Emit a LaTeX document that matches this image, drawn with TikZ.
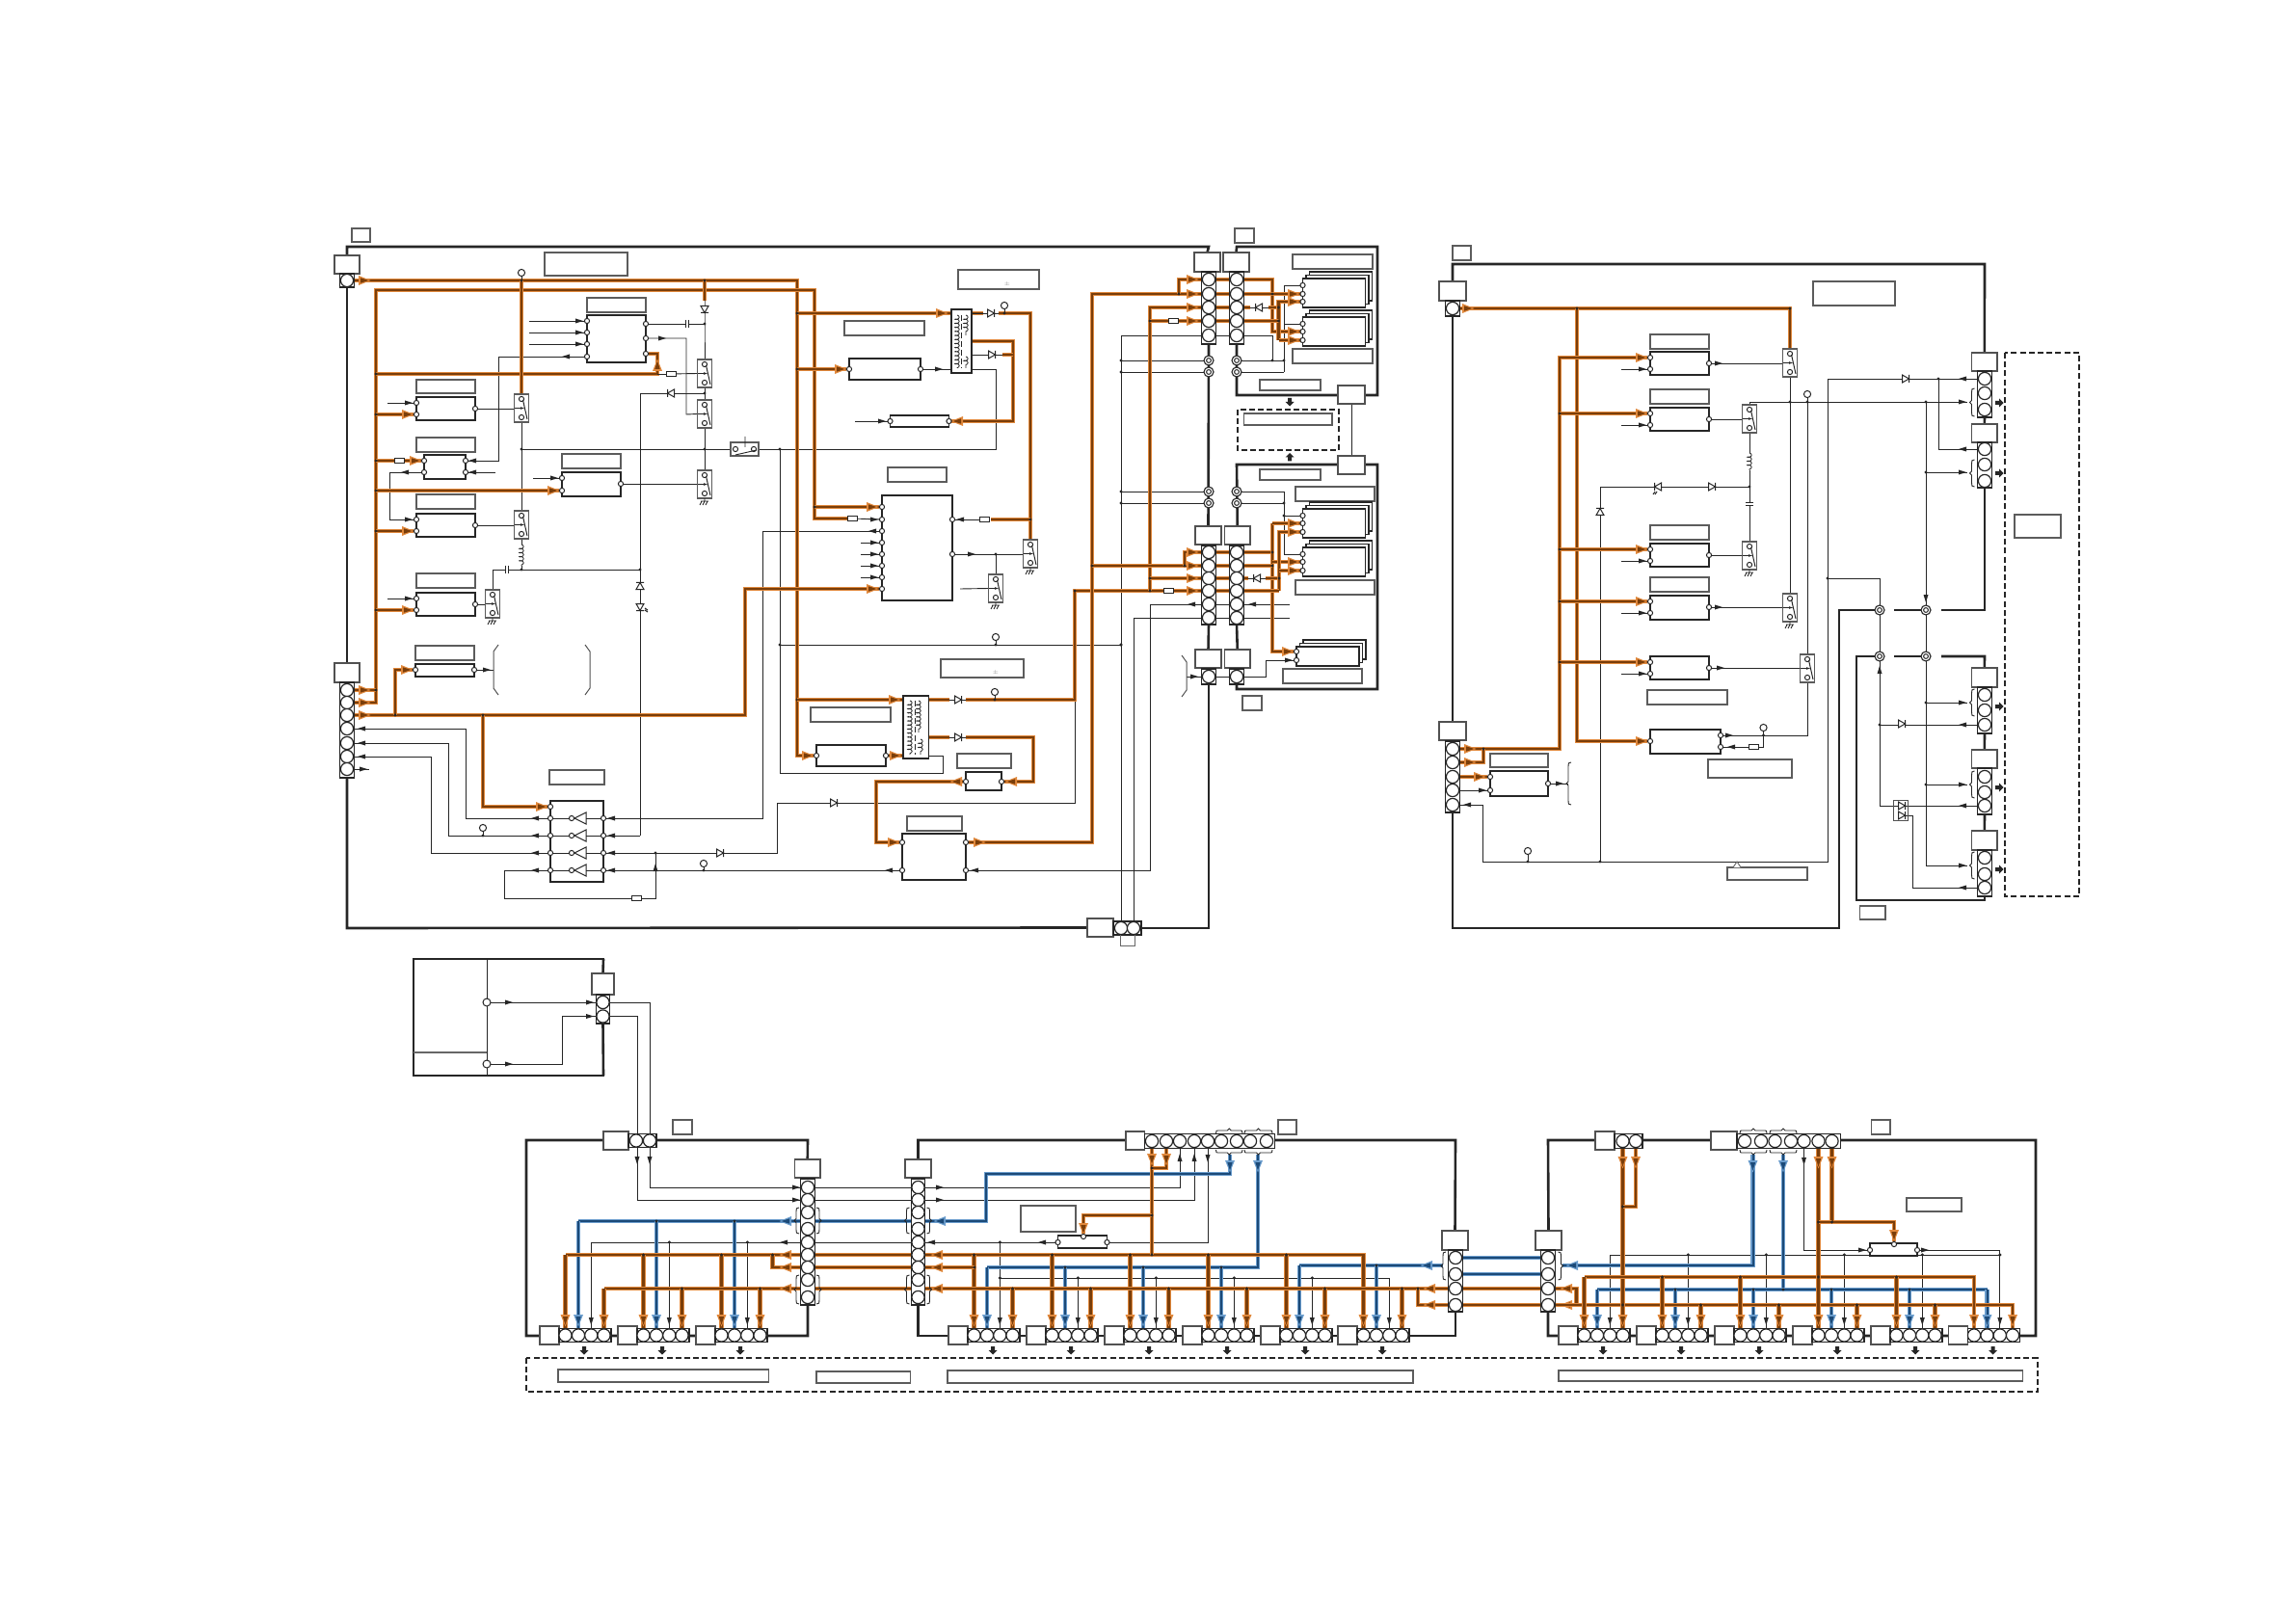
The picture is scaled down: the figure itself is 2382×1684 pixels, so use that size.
\documentclass[tikz,border=0pt]{standalone}
\usetikzlibrary{backgrounds,decorations.pathmorphing}
\definecolor{ink}{HTML}{262626}
\definecolor{hotglow}{HTML}{E0883C}
\definecolor{hotcore}{HTML}{7A3E0A}
\definecolor{coldglow}{HTML}{6A9CCC}
\definecolor{coldcore}{HTML}{1C4A78}
\tikzset{
 wire/.style={draw=ink,line width=.45pt},
 brd/.style={draw=ink,line width=1.3pt},
 hot/.style={preaction={draw=hotglow,line width=2.15pt},draw=hotcore,line width=1.05pt},
 cold/.style={preaction={draw=coldglow,line width=2.15pt},draw=coldcore,line width=1pt},
 dsh/.style={draw=ink,line width=1pt,dash pattern=on 3pt off 1.6pt},
 lab/.style={draw=ink!75,line width=.6pt,fill=white,inner sep=0,outer sep=0},
 blk/.style={draw=ink,line width=.75pt,fill=white,inner sep=0,outer sep=0},
 hdr/.style={draw=ink!80,line width=.6pt,fill=white,inner sep=0,outer sep=0},
 col/.style={draw=ink,line width=.55pt,fill=white,inner sep=0,outer sep=0},
 smallpin/.style={circle,draw=ink,line width=.5pt,fill=white,inner sep=0,outer sep=0,minimum size=2.6pt},
 stackpin/.style={circle,draw=ink,line width=.6pt,fill=white,inner sep=0,outer sep=0,minimum size=6.6pt},
 termo/.style={circle,draw=ink,line width=.55pt,fill=white,inner sep=0,outer sep=0,minimum size=5pt},
 termi/.style={circle,draw=ink,line width=.5pt,fill=white,inner sep=0,outer sep=0,minimum size=2.4pt},
 resis/.style={rectangle,draw=ink,line width=.5pt,fill=white,inner sep=0,outer sep=0,minimum width=5pt,minimum height=2.6pt},
 ar/.pic={\fill[ink] (-4,-2.5)--(4,0)--(-4,2.5)--cycle;},
 har/.pic={\fill[hotglow] (-6,-5)--(6.5,0)--(-6,5)--cycle;\fill[hotcore] (-4,-2.7)--(4.5,0)--(-4,2.7)--cycle;},
 car/.pic={\fill[coldglow] (-6,-5)--(6.5,0)--(-6,5)--cycle;\fill[coldcore] (-4,-2.7)--(4.5,0)--(-4,2.7)--cycle;},
 fatar/.pic={\fill[ink] (-4,-2)--(0,-2)--(0,-4.5)--(4.5,0)--(0,4.5)--(0,2)--(-4,2)--cycle;},
 dio/.pic={\fill[white] (-4,-4.5) rectangle (4,4.5);\draw[ink,line width=.5pt] (-3.5,-4)--(3.5,0)--(-3.5,4)--cycle (3.5,-4)--(3.5,4);},
 led/.pic={\fill[white] (-4,-4.5) rectangle (4,4.5);\draw[ink,line width=.5pt] (-3.5,-4)--(3.5,0)--(-3.5,4)--cycle (3.5,-4)--(3.5,4) (1,-5)--(3,-8) (3,-5)--(5,-8);},
 capa/.pic={\fill[white] (-1.5,-4) rectangle (1.5,4);\draw[ink,line width=.55pt] (-1.5,-4)--(-1.5,4) (1.5,-4)--(1.5,4);},
}
\newcommand\bxx[6]{\pgfmathsetmacro\bxw{(#5-#3)*0.5}\pgfmathsetmacro\bxh{(#6-#4)*0.5}%
 \node[#1,minimum width=\bxw pt,minimum height=\bxh pt] (#2) at ({(#3+#5)/2},{(#4+#6)/2}) {};}
\newcommand\pnn[3]{\node[smallpin] (#1) at (#2,#3) {};}
\newcommand\stackcol[5]{\pgfmathsetmacro\sca{#2-7.3}\pgfmathsetmacro\scb{#2+7.3}%
 \bxx{col}{#1box}{\sca}{#3}{\scb}{#4}%
 \foreach \yy [count=\ii] in {#5} {\node[stackpin] (#1-\ii) at (#2,\yy) {};}}
\newcommand\hstrip[5]{\pgfmathsetmacro\sca{#2-7.3}\pgfmathsetmacro\scb{#2+7.3}%
 \bxx{col}{#1box}{#3}{\sca}{#4}{\scb}%
 \foreach \xx [count=\ii] in {#5} {\node[stackpin] (#1-\ii) at (\xx,#2) {};}}
\newcommand\strp[2]{\pgfmathsetmacro\ha{#2+20}\pgfmathsetmacro\hb{#2+74}%
 \pgfmathsetmacro\ca{#2+26.5}\pgfmathsetmacro\cb{#2+40}\pgfmathsetmacro\cc{#2+53.3}\pgfmathsetmacro\cd{#2+66.5}%
 \bxx{hdr}{#1h}{#2}{1376}{\ha}{1395}%
 \hstrip{#1}{1385.5}{\ha}{\hb}{\ca,\cb,\cc,\cd}%
 \pgfmathsetmacro\fa{#2+46}\pic[rotate=270] at (\fa,1401) {fatar};}
\newcommand\swi[3]{\pgfmathsetmacro\sa{#2-7.3}\pgfmathsetmacro\sb{#2+7.3}\pgfmathsetmacro\sc{#3-5}\pgfmathsetmacro\sd{#3+24}%
 \pgfmathsetmacro\se{#3+19}\pgfmathsetmacro\sf{#3+9.5}%
 \bxx{lab}{#1}{\sa}{\sc}{\sb}{\sd}%
 \node[smallpin] (#1a) at (#2,#3) {};\node[smallpin] (#1b) at (#2,\se) {};%
 \draw[ink,line width=.5pt] ({#2+1.5},{#3+1}) -- ({#2+6},{#3+21});%
 \draw[ink,line width=.45pt] ({#2-7},\sf) -- ({#2},\sf);\fill[ink] ({#2+3},\sf) -- ({#2-1},{\sf-1.3}) -- ({#2-1},{\sf+1.3}) -- cycle;}
\newcommand\gndd[2]{\draw[ink,line width=.45pt] (#1,#2) -- (#1,{#2+3}) ({#1-4},{#2+3}) -- ({#1+4},{#2+3})
 ({#1-3},{#2+3}) -- ({#1-5},{#2+7}) ({#1},{#2+3}) -- ({#1-2},{#2+7}) ({#1+3},{#2+3}) -- ({#1+1},{#2+7});}
\newcommand\tpt[4]{\node[smallpin,minimum size=3.6pt] (#1) at (#2,#4) {};\draw[wire] (#1) -- (#2,#3);\fill[ink] (#2,#3) circle (1.6);}
\newcommand\Ah[4]{\pic[rotate=#2] at (#3,#4) {#1};}
\newcommand\jnc[3]{\coordinate (#1) at (#2,#3);\fill[ink] (#1) circle (1.7);}
\newcommand\coilv[3]{\draw[ink,line width=.4pt,decorate,decoration={coil,aspect=.5,segment length=2.1pt,amplitude=1.1pt}] (#1,#2) -- (#1,#3);}
\newcommand\vbr[4]{\draw[ink,line width=.45pt] ({#1+3*#4},#2) .. controls (#1,#2) and (#1,{#2+1}) .. (#1,{#2+4})
 -- (#1,{(#2+#3)/2-2}) -- ({#1-2*#4},{(#2+#3)/2}) -- (#1,{(#2+#3)/2+2}) -- (#1,{#3-4}) .. controls (#1,{#3-1}) and (#1,#3) .. ({#1+3*#4},#3);}
\newcommand\hbr[4]{\draw[ink,line width=.45pt] (#1,{#3+3*#4}) .. controls (#1,#3) and (#1,#3) .. ({#1+4},#3)
 -- ({(#1+#2)/2-2},#3) -- ({(#1+#2)/2},{#3-2*#4}) -- ({(#1+#2)/2+2},#3) -- ({#2-4},#3) .. controls (#2,#3) and (#2,#3) .. (#2,{#3+3*#4});}
\newcommand\bigbr[4]{\draw[ink!80,line width=.5pt] ({#1+5*#4},#2) -- (#1,{#2+7}) -- (#1,{#3-7}) -- ({#1+5*#4},#3);}
\newcommand\stk[5]{\foreach \oo in {7,3.5,0} {\draw[blk] ({#2+\oo},{#3-\oo}) rectangle ({#4+\oo},{#5-\oo});}\coordinate (#1) at ({(#2+#4)/2},{(#3+#5)/2});}
\newcommand\drp[5]{\draw[#1] (#3 |- 0,#4) -- (#3);\fill[ink] (#3 |- 0,#4) circle (1.7);\pic[rotate=270] at (#3 |- 0,#5) {#2};}
\newcommand\rconn[8]{\bxx{hdr}{#1h}{2045.6}{#2}{2072}{#3}\stackcol{#1}{2059}{#3}{#4}{#5}\vbr{2045.5}{#6}{#7}{1}\pic at (2074,#8) {fatar};}
\begin{document}
\begin{tikzpicture}[x=.5pt,y=-.5pt]
\useasboundingbox (0,0) rectangle (2382,1684);
\begin{scope}[on background layer]\fill[white] (0,0) rectangle (2382,1684);\end{scope}

% ===== nodes, board A =====
\bxx{lab}{a0}{365}{237}{384}{251}
\bxx{hdr}{ja}{347}{265}{373}{284}
\stackcol{pa}{360}{284}{298}{291}
\bxx{hdr}{jb}{347}{688}{373}{708}
\stackcol{pb}{360}{708}{807}{716,729,742,756,771,785,798}
\bxx{lab}{a1}{565}{262}{651}{286}
% u1
\bxx{lab}{u1t}{609}{309}{670}{324}
\bxx{blk}{u1}{609}{327}{670}{376}
\pnn{u1a}{609}{333}\pnn{u1b}{609}{345}\pnn{u1c}{609}{357}\pnn{u1d}{609}{370}
\pnn{u1e}{670}{336}\pnn{u1f}{670}{351}\pnn{u1g}{670}{367}
% b1
\bxx{lab}{b1t}{432}{394}{493}{408}
\bxx{blk}{b1}{432}{412}{493}{436}
\pnn{b1a}{432}{418}\pnn{b1b}{432}{430}\pnn{b1c}{493}{424}
\bxx{lab}{b2t}{432}{454}{493}{469}
\bxx{blk}{b2}{440}{472}{483}{497}
\pnn{b2a}{440}{478}\pnn{b2b}{440}{490}\pnn{b2c}{483}{478}\pnn{b2d}{483}{490}
\bxx{lab}{b3t}{432}{513}{493}{528}
\bxx{blk}{b3}{432}{533}{493}{557}
\pnn{b3a}{432}{539}\pnn{b3b}{432}{551}\pnn{b3c}{493}{545}
\bxx{lab}{b4t}{583}{471}{644}{486}
\bxx{blk}{b4}{583}{490}{644}{515}
\pnn{b4a}{583}{496}\pnn{b4b}{583}{509}\pnn{b4c}{644}{502}
\bxx{lab}{b5t}{432}{595}{493}{610}
\bxx{blk}{b5}{432}{615}{493}{639}
\pnn{b5a}{432}{621}\pnn{b5b}{432}{633}\pnn{b5c}{493}{627}
\bxx{lab}{b6t}{431}{670}{492}{685}
\bxx{blk}{b6}{431}{689}{492}{702}
\pnn{b6a}{431}{695}\pnn{b6b}{492}{695}
\bigbr{512}{669}{721}{1}\bigbr{612}{669}{721}{-1}
% switches
\swi{sa}{541}{414}\swi{sb}{541}{535}\swi{sc}{511}{617}\swi{sd}{731}{378}\swi{se}{731}{420}\swi{sf}{731}{493}
\gndd{511}{641}\gndd{731}{517}
\bxx{lab}{sg}{758}{459}{787}{473}
\pnn{sg1}{763}{466}\pnn{sg2}{782}{466}
\draw[ink,line width=.45pt] (773,453) -- (773,464) (763,472) -- (785,467);
\tpt{tp1}{541}{291}{283}
% resistors
\node[resis] (r1) at (414,478) {};
\node[resis] (r2) at (696,388) {};
\node[resis] (r3) at (884,538) {};
\node[resis] (r4) at (1021,539) {};
\node[resis] (r5) at (660,932) {};
\node[resis] (r6) at (1217,333) {};
\node[resis] (r7) at (1212.5,613) {};
\node[resis] (r8) at (1819,775) {};
% u4 etc
\bxx{lab}{u4t}{876}{333}{959}{348}
\bxx{blk}{u4}{881}{372}{955}{394}
\pnn{u4a}{881}{383}\pnn{u4b}{955}{383}
\bxx{blk}{t1}{987}{321}{1008}{387}
\coilv{993}{327}{382}\coilv{1002}{327}{348}\coilv{1002}{370}{382}
\draw[ink,line width=.45pt,dash pattern=on 3pt off 1.5pt] (997.5,327) -- (997.5,382);
\bxx{lab}{a5}{994}{280}{1078}{300}
\node[font=\fontsize{3}{3}\selectfont,text=ink!50,inner sep=0] (pm1) at (1045,294) {\textpm};
\bxx{blk}{u6}{923.5}{431}{984.5}{443}
\pnn{u6a}{923.5}{437}\pnn{u6b}{984.5}{437}
\bxx{lab}{u5t}{921}{485}{982}{500}
\bxx{blk}{u5}{915}{514}{988}{623}
\foreach \yy [count=\ii] in {526,539,551,563,575,587,599,611} {\pnn{u5l\ii}{915}{\yy}}
\pnn{u5r1}{988}{539}\pnn{u5r2}{988}{575}
\swi{sh}{1069}{565}\swi{si}{1033}{601}
\gndd{1069}{589}\gndd{1033}{625}
\tpt{tp2}{1042}{325}{317}
\tpt{tp3}{1033}{669}{661}
\bxx{lab}{a6}{976}{684}{1062}{703}
\node[font=\fontsize{3}{3}\selectfont,text=ink!50,inner sep=0] (pm2) at (1033,697.5) {\textpm};
\tpt{tp4}{1032}{726}{718}
\tpt{tp5}{501}{867}{859}
\tpt{tp6}{730}{903}{896}
% t2
\bxx{blk}{t2}{937}{722}{963.5}{787}
\coilv{944}{727}{783}\coilv{953}{727}{760}\coilv{955}{767}{783}
\draw[ink,line width=.45pt,dash pattern=on 3pt off 1.5pt] (949.5,727) -- (949.5,783);
\bxx{lab}{u9t}{841}{734}{924}{749}
\bxx{blk}{u9}{847}{773}{919}{795}
\pnn{u9a}{847}{784}\pnn{u9b}{919}{784}
\bxx{lab}{u10t}{993}{782}{1049}{797}
\bxx{blk}{u10}{1002}{801}{1039}{820}
\pnn{u10a}{1002}{811}\pnn{u10b}{1039}{811}
\bxx{lab}{u8t}{941}{847}{998}{862}
\bxx{blk}{u8}{936}{865}{1002}{913}
\pnn{u8a}{936}{874}\pnn{u8b}{936}{903}\pnn{u8c}{1002}{874}\pnn{u8d}{1002}{903}
% u7 buffers
\bxx{lab}{u7t}{570}{799}{627}{814}
\bxx{blk}{u7}{571}{831}{626}{915}
\pnn{u7a}{571}{837}
\foreach \yy [count=\ii] in {849,867,885,903} {
 \pnn{u7l\ii}{571}{\yy}\pnn{u7r\ii}{626}{\yy}
 \node[smallpin] (u7b\ii) at (593,\yy) {};
 \draw[wire] (u7l\ii) -- (u7b\ii);
 \draw[ink,line width=.5pt,fill=white] (608,\yy-6) -- (596,\yy) -- (608,\yy+6) -- cycle;
 \draw[wire] (608,\yy) -- (u7r\ii);}
% bottom connector
\bxx{hdr}{jk}{1128}{953}{1155}{972}
\bxx{col}{jkb}{1155}{956}{1184}{970}
\node[stackpin] (pk-1) at (1163,963) {};\node[stackpin] (pk-2) at (1176,963) {};
\draw[ink!70,line width=.5pt] (1162,970) -- (1162,981) -- (1177,981) -- (1177,970);
% ===== connectors between A and B =====
\bxx{lab}{b0}{1281}{237}{1301}{252}
\bxx{hdr}{jc}{1239}{262}{1266}{282}\stackcol{pc}{1254}{282}{357}{290,305,319,333,348}
\bxx{hdr}{jd}{1269}{262}{1296}{282}\stackcol{pd}{1283}{282}{357}{290,305,319,333,348}
\bxx{hdr}{je}{1240}{546}{1267}{565}\stackcol{pe}{1254}{566}{648}{573,587,600,613,627,641}
\bxx{hdr}{jf}{1270.5}{546}{1297}{565}\stackcol{pf}{1283}{566}{648}{573,587,600,613,627,641}
\bxx{hdr}{jg}{1240}{674}{1267}{693}\stackcol{pg}{1254}{694}{710}{702}
\bxx{hdr}{jh}{1270.5}{674}{1297}{693}\stackcol{ph}{1283}{694}{710}{702}
\bigbr{1231}{680}{723}{-1}
\foreach \nm/\xx/\yy in {ta/1254/374,tb/1254/386,tc/1283/374,td/1283/386,te/1254/510,tf/1254/522,tg/1283/510,th/1283/522} {
 \node[termo] (\nm) at (\xx,\yy) {};\node[termi] (\nm i) at (\xx,\yy) {};}
\bxx{lab}{c1}{1341}{264}{1424}{279}
\stk{m1}{1351.5}{289}{1416.5}{319}\stk{m2}{1351.5}{329}{1416.5}{359}
\bxx{lab}{c2}{1341}{362}{1424}{377}
\bxx{lab}{c3}{1307}{394}{1370}{405}
\bxx{hdr}{jx}{1388}{400}{1416}{419}
\bxx{hdr}{jy}{1388}{473}{1416}{492}
\bxx{lab}{c4}{1290.5}{429}{1382}{441}
\bxx{lab}{c5}{1307}{487}{1370}{498}
\bxx{lab}{c6}{1344}{505}{1426}{520}
\stk{m3}{1351.5}{528}{1416.5}{558}\stk{m4}{1351.5}{568}{1416.5}{598}
\bxx{lab}{c7}{1344}{602}{1426}{617}
\stk{m5}{1345}{671}{1410}{691}
\bxx{lab}{c8}{1331}{694}{1413}{709}
\bxx{lab}{c9}{1289}{722}{1309}{737}
\foreach \yy [count=\ii] in {296,305,313,336,344,353,535,543,552,575,583,592} {\pnn{mp\ii}{1351.5}{\yy}}
\pnn{mp13}{1345}{676}\pnn{mp14}{1345}{685}
\pic[rotate=270] at (1338,417) {fatar};
\pic[rotate=90] at (1338,474.5) {fatar};
\draw[dsh] (1284,425) rectangle (1389,467);
% ===== board C =====
\bxx{lab}{d0}{1507}{255}{1526}{270}
\bxx{hdr}{jm}{1493}{292}{1521}{312}\stackcol{pm}{1507}{312}{328}{320}
\bxx{lab}{d1}{1881}{292}{1966}{317}
\foreach \nm/\ya/\yb/\yc [count=\kk] in {c1k/347/365/389,c2k/404/423/447,c3k/545/564/588,c4k/599/618/643} {
 \pgfmathsetmacro\yl{\ya+15}
 \bxx{lab}{\nm t}{1712}{\ya}{1773}{\yl}
 \bxx{blk}{\nm}{1712}{\yb}{1773}{\yc}
 \pgfmathsetmacro\pa{\yb+6}\pgfmathsetmacro\pb{\yb+18}\pgfmathsetmacro\pc{\yb+12}
 \pnn{\nm a}{1712}{\pa}\pnn{\nm b}{1712}{\pb}\pnn{\nm c}{1773}{\pc}}
\bxx{blk}{c5k}{1712}{681}{1773}{705}
\pnn{c5ka}{1712}{687}\pnn{c5kb}{1712}{699}\pnn{c5kc}{1773}{693}
\bxx{lab}{c5kt}{1709}{716}{1792}{731}
\bxx{blk}{c6k}{1712}{757}{1785}{782}
\pnn{c6ka}{1712}{769}\pnn{c6kb}{1785}{763}\pnn{c6kc}{1785}{775}
\bxx{lab}{c6kt}{1772}{788}{1859}{807}
\swi{ta1}{1857}{367}\swi{ta2}{1815}{425}\swi{ta3}{1815}{567}\swi{ta4}{1857}{621}\swi{ta5}{1875}{684}
\gndd{1815}{591}\gndd{1857}{645}
\tpt{tp7}{1875}{417}{409}
\tpt{tp8}{1829.5}{763}{755}
\tpt{tp9}{1585}{894}{883}
\bxx{hdr}{jn}{1493}{749}{1521}{768}\stackcol{pn}{1507}{769}{843}{777,791,806,820,835}
\bxx{lab}{c7kt}{1546}{782}{1606}{796}
\bxx{blk}{c7k}{1546}{800}{1606}{826}
\pnn{c7a}{1546}{806}\pnn{c7b}{1546}{820}\pnn{c7c}{1606}{813}
\vbr{1627}{791}{835}{1}
\bxx{lab}{d2}{1792}{900}{1875}{913}
\draw[ink!70,line width=.5pt,fill=white] (1798,900) -- (1802,894) -- (1806,900);
% right connectors
\rconn{pj}{366}{385}{433}{393,408,425}{403}{432}{418}
\rconn{pk2}{440}{459}{506}{466,482,499}{477}{505}{491}
\rconn{pp}{693}{713}{761}{721,737,752}{715}{743}{733}
\rconn{pq}{778}{797}{845}{806,822,836}{800}{828}{817}
\rconn{pr}{862}{882}{930}{890,907,921}{884}{912}{902}
\foreach \nm/\xx/\yy in {tg1/1950/633,tg2/1950/681,th1/1998/633,th2/1998/681} {
 \node[termo] (\nm) at (\xx,\yy) {};\node[termi] (\nm i) at (\xx,\yy) {};}
\bxx{lab}{d3}{2090}{534}{2138}{558}
\bxx{lab}{d4}{1929.5}{940}{1956}{954}
\draw[dsh] (2080,366) rectangle (2157,930);
\draw[ink!80,line width=.5pt] (1964,830) rectangle (1979,851);
% ===== panel D =====
\bxx{hdr}{jd1}{614}{1010}{637}{1032}
\stackcol{dp}{625.5}{1032}{1062}{1040,1054.5}
\node[smallpin,minimum size=4pt] (dc1) at (505,1040) {};
\node[smallpin,minimum size=4pt] (dc2) at (505,1104) {};
% ===== board E, F, G =====
\bxx{lab}{e0}{698}{1162}{718}{1177}
\bxx{hdr}{je1}{626}{1174}{652}{1193}
\hstrip{ep}{1183.5}{652}{681}{660,674}
\bxx{hdr}{jel}{824.5}{1203}{851}{1222}
\stackcol{el}{838}{1223}{1354}{1232,1245,1258,1275,1289,1302,1315,1328,1346}
\bxx{hdr}{jer}{939}{1203}{966}{1222}
\stackcol{er}{952.5}{1223}{1354}{1232,1245,1258,1275,1289,1302,1315,1328,1346}
\foreach \xx/\ss in {826/1,850/-1,940.5/1,964.5/-1} {\vbr{\xx}{1253}{1280}{\ss}\vbr{\xx}{1323}{1353}{\ss}}
\strp{se1}{560}\strp{se2}{641}\strp{se3}{722}
\strp{sf1}{984}\strp{sf2}{1065}\strp{sf3}{1146}\strp{sf4}{1227}\strp{sf5}{1308}\strp{sf6}{1388}
\strp{sg1}{1617}\strp{sg2}{1698}\strp{sg3}{1779}\strp{sg4}{1860}\strp{sg5}{1941}\strp{sg6}{2021.5}
\bxx{hdr}{jfs}{1168}{1174}{1187.5}{1193}
\hstrip{fs}{1184}{1187.5}{1322.5}{1195,1210,1224,1239,1253,1267,1283,1297,1314}
\hbr{1261.5}{1289}{1173}{1}\hbr{1291}{1320}{1173}{1}\hbr{1261.5}{1289}{1196}{-1}\hbr{1291}{1320}{1196}{-1}
\bxx{lab}{f0}{1326}{1162}{1345}{1177}
\bxx{lab}{f1}{1059}{1251}{1116}{1278}
\bxx{blk}{b10}{1097.5}{1282}{1148.5}{1295}
\pnn{b10a}{1097.5}{1289}\pnn{b10b}{1124}{1283}\pnn{b10c}{1148.5}{1289}
\bxx{hdr}{jpu}{1496}{1277}{1523}{1297}
\stackcol{pu}{1510}{1297}{1361}{1305,1322,1337,1354}
\vbr{1497}{1299}{1328}{1}
\bxx{hdr}{jpv}{1593}{1277}{1620}{1297}
\stackcol{pv}{1606}{1297}{1361}{1305,1322,1337,1354}
\vbr{1619.5}{1299}{1328}{-1}
\bxx{hdr}{jgt}{1655}{1174}{1675}{1193}
\hstrip{gt}{1184}{1675}{1704}{1683.5,1697}
\bxx{hdr}{jgs}{1775}{1174}{1802}{1193}
\hstrip{gs}{1184}{1802}{1909.5}{1810,1827,1841.5,1858,1871.5,1886.5,1900.5}
\hbr{1805}{1833}{1173}{1}\hbr{1836}{1864}{1173}{1}\hbr{1805}{1833}{1196}{-1}\hbr{1836}{1864}{1196}{-1}
\bxx{lab}{g0}{1941.5}{1162}{1961}{1177}
\bxx{lab}{g1}{1978}{1243}{2035}{1257}
\bxx{blk}{b11}{1940}{1290}{1989}{1303}
\pnn{b11a}{1940}{1297}\pnn{b11b}{1965}{1291}\pnn{b11c}{1989}{1297}
% dashed bottom
\draw[dsh] (546,1409) rectangle (2114,1444);
\bxx{lab}{h1}{579}{1421}{797.5}{1434}
\bxx{lab}{h2}{847}{1423}{944.5}{1435}
\bxx{lab}{h3}{983}{1422}{1466}{1435}
\bxx{lab}{h4}{1617}{1422}{2098.5}{1433}

% ===== connectors =====
\begin{scope}[on background layer]
% board outlines
\draw[brd] (ja.north) -- (360,256) -- (1254,256) -- (jc.north);
\draw[brd] (pabox.south) -- (jb.north);
\draw[brd] (pbbox.south) -- (360,963) -- (jk.west);
\draw[brd] (jkb.east) -- (1254,963) -- (pgbox.south);
\draw[brd] (pcbox.south) -- (je.north);
\draw[brd] (pebox.south) -- (jg.north);
\draw[brd] (jd.north) -- (1283,256) -- (1429,256) -- (1429,410) -- (1283,410) -- (pdbox.south);
\draw[brd] (jf.north) -- (1283,482) -- (1429,482) -- (1429,715) -- (1283,715) -- (phbox.south);
\draw[brd] (pfbox.south) -- (jh.north);
\draw[wire] (jx) -- (jy);
% board C
\draw[brd] (jm.north) -- (1507,274) -- (2059,274) -- (pjh.north);
\draw[brd] (pmbox.south) -- (jn.north);
\draw[brd] (pnbox.south) -- (1507,963) -- (1908,963) -- (1908,633) -- (tg1);
\coordinate (s1a) at (1965,633);\coordinate (s1b) at (2014,633);
\coordinate (s2a) at (1965,681);\coordinate (s2b) at (2014,681);
\draw[brd] (s1a) -- (th1);\draw[brd] (s2a) -- (th2);
\draw[brd] (s1b) -- (2059,633) -- (pk2box.south);
\draw[brd] (pjbox.south) -- (pk2h.north);
\draw[brd] (tg2) -- (1926,681) -- (1926,934) -- (2059,934) -- (prbox.south);
\draw[brd] (s2b) -- (2059,681) -- (pph.north);
\draw[brd] (ppbox.south) -- (pqh.north);
\draw[brd] (pqbox.south) -- (prh.north);
% panel D
\draw[brd] (429,995) rectangle (626,1116);
\draw[draw=white,line width=2pt] (626,1062) -- (626,1010);
\draw[brd] (626,995) -- (jd1.north);\draw[brd] (dpbox.south) -- (626,1116);
\draw[wire] (505,995) -- (dc1) (dc1) -- (dc2) (dc2) -- (505,1116);
\draw[draw=ink!70,line width=.6pt] (429,1092) -- (505,1092);
% E F G outlines
\draw[brd] (jel.north) -- (838,1183) -- (546,1183) -- (546,1386) -- (838,1386) -- (elbox.south);
\draw[brd] (jer.north) -- (952.5,1183) -- (1510,1183) -- (jpu.north);
\draw[brd] (erbox.south) -- (952.5,1386) -- (1510,1386) -- (pubox.south);
\draw[brd] (jpv.north) -- (1606,1183) -- (2112,1183) -- (2112,1386) -- (1606,1386) -- (pvbox.south);

% ---- thin wires board A ----
\foreach \pp/\yy in {u1a/333,u1b/345,u1c/357} {\coordinate (\pp f) at (549,\yy);\draw[wire] (\pp f) -- (\pp);\Ah{ar}{0}{601}{\yy}}
\draw[wire] (u1d) -- (517,370) -- (517,478) -- (b2c);
\Ah{ar}{180}{587}{370}\Ah{ar}{180}{490}{478}
\draw[wire] (u1e) -- (731,336);
\draw[wire] (u1f) -- (712,351) -- (712,430) -- (se.west);\Ah{ar}{0}{687}{351}
\draw[wire] (r2) -- (sd.west);
\coordinate (b2f) at (514,490);\draw[wire] (b2f) -- (b2d);\Ah{ar}{180}{490}{490}
\draw[wire] (b2b) -- (404,490) -- (404,539) -- (b3a);\Ah{ar}{180}{420}{490}\Ah{ar}{0}{424}{539}
\coordinate (b1f) at (402,418);\draw[wire] (b1f) -- (b1a);\Ah{ar}{0}{424}{418}
\coordinate (b5f) at (402,621);\draw[wire] (b5f) -- (b5a);\Ah{ar}{0}{424}{621}
\coordinate (b4f) at (553,496);\draw[wire] (b4f) -- (b4a);\Ah{ar}{0}{575}{496}
\draw[wire] (b1c) -- (b1c -| sa.west);
\draw[wire] (b3c) -- (b3c -| sb.west);
\draw[wire] (b5c) -- (b5c -| sc.west);
\draw[wire] (b4c) -- (b4c -| sf.west);
\draw[wire] (b6b) -- (512,695);\Ah{ar}{0}{505}{695}
\draw[wire] (sab) -- (sba);
\draw[wire] (sbb) -- (541,565);\draw[wire] (541,587) -- (541,591);
\draw[wire] (541,591) -- (511,591) -- (sca);
\draw[wire] (541,466) -- (sg1);\draw[wire] (sg2) -- (1033,466) -- (1033,383) -- (t1.east |- 0,383);
\jnc{ja1}{541}{466}\jnc{ja2}{731}{466}\jnc{ja3}{809}{466}
\draw[wire] (731,312) -- (731,336) -- (sda);
\draw[wire] (sdb) -- (sea);
\draw[wire] (seb) -- (sfa);
\jnc{ja4}{731}{408}\jnc{ja5}{731}{336}
\draw[wire] (731,408) -- (664,408) -- (664,867);
\draw[wire] (664,591) -- (541,591);\jnc{ja6}{541}{591}\jnc{ja7}{664}{591}
\draw[wire] (809,466) -- (809,802) -- (978,802) -- (978,784) -- (963.5,784);
\draw[wire] (809,669) -- (1163,669);\jnc{ja8}{809}{669}\jnc{ja9}{1163}{669}
\draw[wire] (791,551) -- (791,849) -- (u7r1);\draw[wire] (u5l3) -- (791,551);
\Ah{ar}{180}{905}{551}\Ah{ar}{180}{634}{849}
% lines u7
\draw[wire] (pb-4) -- (483,756) -- (483,849) -- (u7l1);\Ah{ar}{180}{375}{756}\Ah{ar}{180}{555}{849}
\draw[wire] (pb-5) -- (465,771) -- (465,867) -- (u7l2);\Ah{ar}{180}{375}{771}\Ah{ar}{180}{555}{867}
\draw[wire] (pb-6) -- (447,785) -- (447,885) -- (u7l3);\Ah{ar}{180}{375}{785}\Ah{ar}{180}{555}{885}
\coordinate (pbf) at (383,798);\draw[wire] (pb-7) -- (pbf);\Ah{ar}{0}{377}{798}
\draw[wire] (u7r2) -- (664,867);\Ah{ar}{180}{634}{867}
\draw[wire] (u7r3) -- (806.5,885) -- (806.5,833) -- (1115,833) -- (1115,726);\Ah{ar}{180}{634}{885}
\jnc{ja10}{1115}{726}
\draw[wire] (u7l4) -- (523,903) -- (523,932) -- (r5) -- (680,932) -- (680,885);\Ah{ar}{180}{555}{903}\Ah{ar}{90}{680}{900}
\jnc{ja11}{680}{885}
\draw[wire] (u7r4) -- (u8b);\Ah{ar}{180}{634}{903}\Ah{ar}{180}{922}{903}
\draw[wire] (u8d) -- (1193,903) -- (1193,627) -- (pe-5);\Ah{ar}{180}{1011}{903}\Ah{ar}{180}{1236}{627}
\draw[wire] (pe-5) -- (pf-5);\coordinate (pf5f) at (1338,627);\draw[wire] (pf-5) -- (pf5f);\Ah{ar}{180}{1299}{627}
\draw[wire] (pe-6) -- (pf-6);\coordinate (pf6f) at (1338,641);\draw[wire] (pf-6) -- (pf6f);
\draw[wire] (pe-6) -- (1176,641) -- (pk-2);
\draw[wire] (pc-5) -- (1163,348) -- (pk-1);
\draw[wire] (pc-5) -- (pd-5) -- (1320,348) -- (1320,374);
\draw[wire] (1163,374) -- (ta);\draw[wire] (1163,386) -- (tb);\draw[wire] (1163,510) -- (te);\draw[wire] (1163,522) -- (tf);
\foreach \yy in {374,386,510,522,669} {\fill[ink] (1163,\yy) circle (1.7);}
\draw[wire] (tc) -- (1332,374);\draw[wire] (td) -- (1332,386);
\draw[wire] (mp1) -- (1332,296) -- (1332,386);\draw[wire] (mp4) -- (1332,336);
\fill[ink] (1320,374) circle (1.7);\fill[ink] (1332,374) circle (1.7);
\draw[wire] (tg) -- (1332,510) -- (1332,575) -- (mp10);\draw[wire] (th) -- (1332,522);\draw[wire] (mp7) -- (1332,535);
\fill[ink] (1332,522) circle (1.7);\fill[ink] (1332,535) circle (1.7);
\draw[wire] (pg-1) -- (ph-1) -- (1313,702) -- (1313,685) -- (mp14);\Ah{ar}{0}{1337}{685}
\coordinate (pgf) at (1231,702);\draw[wire] (pgf) -- (pg-1);\Ah{ar}{0}{1239}{702}
\draw[wire] (u4b) -- (t1.west |- 0,383);\Ah{ar}{0}{974}{383}
\coordinate (u6f) at (887,437);\draw[wire] (u6f) -- (u6a);\Ah{ar}{0}{915}{437}
\foreach \kk/\yy in {4/563,5/575,6/587,7/599} {\coordinate (u5f\kk) at (893,\yy);\draw[wire] (u5f\kk) -- (u5l\kk);\Ah{ar}{0}{907}{\yy}}
\draw[wire] (r3) -- (u5l2);\Ah{ar}{0}{907}{539}
\draw[wire] (u5r2) -- (sh.west |- 0,575);\draw[wire] (1033,575) -- (sia);\Ah{ar}{0}{1008}{575}\jnc{ja12}{1033}{575}
\draw[wire] (u5r1) -- (r4);\Ah{ar}{180}{996}{539}
\coordinate (sif) at (996,611);\draw[wire] (sif) -- (si.west);
% ---- thin wires board C ----
\foreach \nm in {c1k,c2k,c3k,c4k} {\path (\nm b) ++(-30,0) coordinate (\nm f);\draw[wire] (\nm f) -- (\nm b);\path (\nm b) ++(-8,0) pic {ar};}
\coordinate (c5kf) at (1682,699);\draw[wire] (c5kf) -- (c5kb);\Ah{ar}{0}{1704}{699}
\draw[wire] (c1kc) -- (c1kc -| ta1.west);\Ah{ar}{0}{1783}{377}
\draw[wire] (c2kc) -- (c2kc -| ta2.west);
\draw[wire] (c3kc) -- (c3kc -| ta3.west);
\draw[wire] (c4kc) -- (c4kc -| ta4.west);\Ah{ar}{0}{1783}{630}
\draw[wire] (c5kc) -- (c5kc -| ta5.west);\Ah{ar}{0}{1785}{693}
\draw[wire] (ta1b) -- (ta4a);
\draw[wire] (ta2a) -- (1815,417) -- (2041,417);\Ah{ar}{0}{2036}{417}
\foreach \xx in {1857,1998} {\fill[ink] (\xx,417) circle (1.7);}
\draw[wire] (1875,417) -- (ta5a);
\draw[wire] (ta5b) -- (1875,763) -- (c6kb);\Ah{ar}{0}{1794}{763}
\draw[wire] (1829.5,763) -- (1829.5,775) -- (r8) -- (c6kc);\Ah{ar}{180}{1796}{775}
\draw[wire] (ta2b) -- (1815,470);\draw[wire] (1815,488) -- (1815,505) -- (ta3a);
\jnc{jc1}{1815}{505}
\draw[wire] (1815,505) -- (1660,505) -- (1660,894);
\draw[wire] (pn-5) -- (1538,835) -- (1538,894) -- (1896,894) -- (1896,393) -- (pj-1);\Ah{ar}{180}{1522}{835}\Ah{ar}{180}{2036}{393}
\jnc{jc2}{1660}{894}
\jnc{jc3}{2011}{393}
\draw[wire] (2011,393) -- (2011,466) -- (pk2-1);\Ah{ar}{180}{2036}{466}
\jnc{jc4}{1896}{600}
\draw[wire] (1896,600) -- (1950,600) -- (tg1);
\draw[wire] (tg1) -- (tg2);
\draw[wire] (tg2) -- (1950,836) -- (pq-3);\Ah{ar}{90}{1950}{695}\Ah{ar}{180}{2036}{836}
\draw[wire] (1950,752) -- (pp-3);\Ah{ar}{180}{2036}{752}\jnc{jc5}{1950}{752}
\draw[wire] (1973,846) -- (1984.5,846) -- (1984.5,921) -- (pr-3);\Ah{ar}{180}{2036}{921}
\draw[wire] (1998,417) -- (th1);\draw[wire] (th1) -- (th2);\draw[wire] (th2) -- (1998,898) -- (2041,898);\Ah{ar}{270}{1998}{621}\Ah{ar}{0}{2036}{898}
\draw[wire] (1998,490) -- (2041,490);\Ah{ar}{0}{2036}{490}\jnc{jc6}{1998}{490}
\draw[wire] (1998,729) -- (2041,729);\Ah{ar}{0}{2036}{729}\jnc{jc7}{1998}{729}
\draw[wire] (1998,814) -- (2041,814);\Ah{ar}{0}{2036}{814}\jnc{jc8}{1998}{814}
\draw[wire] (c7c) -- (1627,813);\Ah{ar}{0}{1618}{813}
\draw[wire] (pn-4) -- (c7b);\Ah{ar}{0}{1538}{820}
% ---- panel D wires ----
\draw[wire] (dc1) -- (dp-1);\Ah{ar}{0}{528}{1040}\Ah{ar}{0}{612}{1040}
\draw[wire] (dc2) -- (583,1104) -- (583,1054.5) -- (dp-2);\Ah{ar}{0}{528}{1104}\Ah{ar}{0}{612}{1054.5}
\draw[wire] (dp-1) -- (674,1040) -- (674,1232) -- (el-1);\Ah{ar}{270}{674}{1204}\Ah{ar}{0}{826}{1232}
\draw[wire] (dp-2) -- (661,1054.5) -- (661,1245) -- (el-2);\Ah{ar}{270}{661}{1204}\Ah{ar}{0}{826}{1245}
\draw[wire] (el-1) -- (er-1);\draw[wire] (el-2) -- (er-2);
\draw[wire] (er-1) -- (1224,1232) -- (fs-3);\Ah{ar}{0}{975}{1232}\Ah{ar}{90}{1224}{1201}
\draw[wire] (er-2) -- (1239,1245) -- (fs-4);\Ah{ar}{0}{975}{1245}\Ah{ar}{90}{1239}{1201}
% y=1289 row
\draw[wire] (se1-3 |- 0,1289) -- (el-5);\Ah{ar}{180}{813}{1289}
\draw[wire] (el-5) -- (er-5);\draw[wire] (er-5) -- (b10a);\Ah{ar}{180}{966}{1289}\Ah{ar}{180}{1081}{1289}
\draw[wire] (b10c) -- (1253,1289) -- (fs-5);\Ah{ar}{270}{1253}{1202}
\draw[wire] (se1-3 |- 0,1289) -- (se1-3);\pic[rotate=270] at (se1-3 |- 0,1371) {ar};
\drp{wire}{ar}{se2-3}{1289}{1371}\drp{wire}{ar}{se3-3}{1289}{1371}
\drp{wire}{ar}{sf1-3}{1289}{1371}
\draw[wire] (sf1-3 |- 0,1326) -- (sf6-3 |- 0,1326);\fill[ink] (sf1-3 |- 0,1326) circle (1.7);
\drp{wire}{ar}{sf2-3}{1326}{1371}\drp{wire}{ar}{sf3-3}{1326}{1371}\drp{wire}{ar}{sf4-3}{1326}{1371}\drp{wire}{ar}{sf5-3}{1326}{1371}
\draw[wire] (sf6-3 |- 0,1326) -- (sf6-3);\pic[rotate=270] at (sf6-3 |- 0,1371) {ar};
% G thin
\draw[wire] (gs-5) -- (1871.5,1297) -- (b11a);\Ah{ar}{270}{1871.5}{1205}\Ah{ar}{0}{1932}{1297}
\draw[wire] (b11c) -- (2074.5,1297) -- (2074.5,1302);\Ah{ar}{0}{1997}{1297}
\draw[wire] (sg1-3 |- 0,1302) -- (sg6-3 |- 0,1302);
\draw[wire] (sg1-3 |- 0,1302) -- (sg1-3);\pic[rotate=270] at (sg1-3 |- 0,1371) {ar};
\drp{wire}{ar}{sg2-3}{1302}{1371}\drp{wire}{ar}{sg3-3}{1302}{1371}\drp{wire}{ar}{sg4-3}{1302}{1371}\drp{wire}{ar}{sg5-3}{1302}{1371}\drp{wire}{ar}{sg6-3}{1302}{1371}

% ---- blue ----
\draw[cold] (se1-2 |- 0,1267) -- (1023,1267) -- (1023,1218) -- (1276,1218) -- (1276,1198);
\Ah{car}{180}{815}{1267}\Ah{car}{180}{975}{1267}\Ah{car}{270}{1276}{1210}
\draw[cold] (se1-2 |- 0,1267) -- (se1-2);\pic[rotate=270] at (se1-2 |- 0,1370) {car};
\drp{cold}{car}{se2-2}{1267}{1370}\drp{cold}{car}{se3-2}{1267}{1370}
\draw[cold] (1305,1198) -- (1305,1315) -- (sf1-2 |- 0,1315);\Ah{car}{270}{1305}{1210}
\draw[cold] (sf1-2 |- 0,1315) -- (sf1-2);\pic[rotate=270] at (sf1-2 |- 0,1370) {car};
\drp{cold}{car}{sf2-2}{1315}{1370}\drp{cold}{car}{sf3-2}{1315}{1370}\drp{cold}{car}{sf4-2}{1315}{1370}
\draw[cold] (sf5-2 |- 0,1313) -- (1497,1313);\Ah{car}{180}{1480}{1313}
\draw[cold] (sf5-2 |- 0,1313) -- (sf5-2);\pic[rotate=270] at (sf5-2 |- 0,1370) {car};
\drp{cold}{car}{sf6-2}{1313}{1370}
\draw[cold] (pu-1) -- (pv-1);\draw[cold] (pu-2) -- (pv-2);
\draw[cold] (1818.5,1198) -- (1818.5,1313) -- (1621,1313);\Ah{car}{270}{1818.5}{1210}\Ah{car}{180}{1631}{1313}
\draw[cold] (1850,1198) -- (1850,1338);\Ah{car}{270}{1850}{1210}
\draw[cold] (sg1-2 |- 0,1338) -- (sg6-2 |- 0,1338);\fill[ink] (1850,1338) circle (1.7);
\draw[cold] (sg1-2 |- 0,1338) -- (sg1-2);\pic[rotate=270] at (sg1-2 |- 0,1370) {car};
\drp{cold}{car}{sg2-2}{1338}{1370}\drp{cold}{car}{sg3-2}{1338}{1370}\drp{cold}{car}{sg4-2}{1338}{1370}\drp{cold}{car}{sg5-2}{1338}{1370}
\draw[cold] (sg6-2 |- 0,1338) -- (sg6-2);\pic[rotate=270] at (sg6-2 |- 0,1370) {car};

% ---- hot: panels E F G ----
\draw[hot] (se1-1 |- 0,1302) -- (1414.5,1302) -- (sf6-1);\pic[rotate=270] at (sf6-1 |- 0,1370) {har};
\Ah{har}{180}{815}{1302}\Ah{har}{180}{972}{1302}
\draw[hot] (se1-1 |- 0,1302) -- (se1-1);\pic[rotate=270] at (se1-1 |- 0,1370) {har};
\drp{hot}{har}{se2-1}{1302}{1370}\drp{hot}{har}{se3-1}{1302}{1370}
\drp{hot}{har}{sf1-1}{1302}{1370}\drp{hot}{har}{sf2-1}{1302}{1370}\drp{hot}{har}{sf3-1}{1302}{1370}\drp{hot}{har}{sf4-1}{1302}{1370}\drp{hot}{har}{sf5-1}{1302}{1370}
\draw[hot] (801.5,1302) -- (801.5,1315) -- (el-7);\draw[hot] (el-7) -- (er-7) -- (1011,1315);
\Ah{har}{180}{815}{1315}\Ah{har}{180}{972}{1315}
\fill[ink] (801.5,1302) circle (1.7);\fill[ink] (1011,1315) circle (1.7);
\draw[hot] (se1-4 |- 0,1337) -- (pu-3);
\Ah{har}{180}{815}{1337}\Ah{har}{180}{972}{1337}\Ah{har}{180}{1483}{1337}
\draw[hot] (se1-4 |- 0,1337) -- (se1-4);\pic[rotate=270] at (se1-4 |- 0,1370) {har};
\drp{hot}{har}{se2-4}{1337}{1370}\drp{hot}{har}{se3-4}{1337}{1370}
\drp{hot}{har}{sf1-4}{1337}{1370}\drp{hot}{har}{sf2-4}{1337}{1370}\drp{hot}{har}{sf3-4}{1337}{1370}\drp{hot}{har}{sf4-4}{1337}{1370}\drp{hot}{har}{sf5-4}{1337}{1370}\drp{hot}{har}{sf6-4}{1337}{1370}
\draw[hot] (pu-4) -- (1471,1354) -- (1471,1337);\Ah{har}{180}{1483}{1354}\fill[ink] (1471,1337) circle (1.7);
\draw[hot] (fs-1) -- (1195,1302);\Ah{har}{270}{1195}{1203}\fill[ink] (1195,1302) circle (1.7);
\draw[hot] (fs-2) -- (1210,1212) -- (1195,1212);\Ah{har}{270}{1210}{1203}\fill[ink] (1195,1212) circle (1.7);
\draw[hot] (1195,1261) -- (1124,1261) -- (b10b);\Ah{har}{270}{1124}{1275}\fill[ink] (1195,1261) circle (1.7);
% G hot
\draw[hot] (pu-3) -- (pv-3);\draw[hot] (pu-4) -- (pv-4);
\draw[hot] (pv-3) -- (1635.5,1337) -- (1635.5,1354);\Ah{har}{180}{1625}{1337}\Ah{har}{180}{1625}{1354}
\draw[hot] (pv-4) -- (sg6-4 |- 0,1354) -- (sg6-4);\pic[rotate=270] at (sg6-4 |- 0,1370) {har};
\drp{hot}{har}{sg2-4}{1354}{1370}\drp{hot}{har}{sg3-4}{1354}{1370}\drp{hot}{har}{sg4-4}{1354}{1370}\drp{hot}{har}{sg5-4}{1354}{1370}
\draw[hot] (gt-1) -- (sg1-4);\pic[rotate=270] at (1683.5,1370) {har};\Ah{har}{270}{1683.5}{1206}
\draw[hot] (gt-2) -- (1697,1252) -- (1683.5,1252);\Ah{har}{270}{1697}{1206}\fill[ink] (1683.5,1252) circle (1.7);\fill[ink] (1683.5,1354) circle (1.7);
\draw[hot] (sg1-1 |- 0,1325) -- (sg6-1 |- 0,1325) -- (sg6-1);\pic[rotate=270] at (sg6-1 |- 0,1370) {har};
\draw[hot] (sg1-1 |- 0,1325) -- (sg1-1);\pic[rotate=270] at (sg1-1 |- 0,1370) {har};
\drp{hot}{har}{sg2-1}{1325}{1370}\drp{hot}{har}{sg3-1}{1325}{1370}\drp{hot}{har}{sg5-1}{1325}{1370}
\draw[hot] (gs-6) -- (sg4-1);\pic[rotate=270] at (sg4-1 |- 0,1370) {har};\Ah{har}{270}{1886.5}{1206}\fill[ink] (1886.5,1325) circle (1.7);
\draw[hot] (gs-7) -- (1900.5,1268) -- (1965,1268) -- (b11b);\draw[hot] (1886.5,1268) -- (1900.5,1268);\Ah{har}{270}{1900.5}{1206}\Ah{har}{270}{1965}{1282}
\fill[ink] (1886.5,1268) circle (1.7);\fill[ink] (1900.5,1268) circle (1.7);

% ---- hot: board A ----
\draw[hot] (pa-1) -- (827,291) -- (827,784) -- (u9a);\Ah{har}{0}{378}{291}\Ah{har}{0}{838}{784}
\draw[hot] (pb-2) -- (390,729) -- (390,301) -- (845,301) -- (845,538) -- (r3);
\draw[hot] (pb-1) -- (390,716);\Ah{har}{0}{378}{716}\Ah{har}{0}{378}{729}
\draw[hot] (pb-3) -- (773,742) -- (773,611) -- (u5l8);\Ah{har}{0}{378}{742}\Ah{har}{0}{905}{611}
\draw[hot] (410,742) -- (410,695) -- (b6a);\Ah{har}{0}{422}{695}\fill[ink] (410,742) circle (1.7);
\draw[hot] (501,742) -- (501,837) -- (u7a);\Ah{har}{0}{562}{837}\fill[ink] (501,742) circle (1.7);
\draw[hot] (390,388) -- (682,388) -- (682,367) -- (u1g);\Ah{har}{90}{682}{379}
\draw[hot] (390,430) -- (b1b);\Ah{har}{0}{423}{430}
\draw[hot] (390,478) -- (r1);\draw[hot] (r1) -- (b2a);\Ah{har}{0}{431}{478}
\draw[hot] (390,509) -- (b4b);\Ah{har}{0}{574}{509}
\draw[hot] (390,551) -- (b3b);\Ah{har}{0}{423}{551}
\draw[hot] (390,633) -- (b5b);\Ah{har}{0}{423}{633}
\foreach \yy in {388,430,478,509,551,633,716} {\fill[ink] (390,\yy) circle (1.7);}
\draw[hot] (541,291) -- (saa);
\draw[hot] (731,291) -- (731,312);\fill[ink] (731,291) circle (1.7);
\draw[wire] (682,388) -- (r2);
\draw[hot] (827,325) -- (t1.west |- 0,325);\Ah{har}{0}{977}{325}
\draw[hot] (827,383) -- (u4a);\Ah{har}{0}{872}{383}
\foreach \yy in {325,383,726} {\fill[ink] (827,\yy) circle (1.7);}
\draw[hot] (845,526) -- (u5l1);\Ah{har}{0}{905}{526}\fill[ink] (845,526) circle (1.7);
\draw[hot] (1008,325) -- (1020,325);\draw[hot] (1036,325) -- (1069,325) -- (sha);
\draw[wire] (1008,325) -- (1036,325);
\draw[hot] (1069,539) -- (1028,539);\fill[ink] (1069,539) circle (1.7);
\draw[hot] (1003,354) -- (1051,354) -- (1051,437) -- (u6b);\Ah{har}{180}{993}{437}
\draw[hot] (1040,368) -- (1051,368);\draw[wire] (1002,368) -- (1040,368);
% t2 and u9..u8
\draw[hot] (827,726) -- (t2.west |- 0,726);\Ah{har}{0}{928}{726}
\draw[hot] (u9b) -- (t2.west |- 0,784);\Ah{har}{0}{929}{784}
\draw[hot] (963.5,726) -- (985,726);\draw[hot] (1002,726) -- (1115,726) -- (1115,613) -- (r7);
\draw[wire] (985,726) -- (1002,726);
\draw[hot] (958,765) -- (985,765);\draw[wire] (985,765) -- (1002,765);\draw[hot] (1002,765) -- (1072,765) -- (1072,811) -- (u10b);\Ah{har}{180}{1049}{811}
\draw[hot] (u10a) -- (909,811) -- (909,874) -- (u8a);\Ah{har}{180}{992}{811}\Ah{har}{0}{927}{874}
\draw[hot] (u8c) -- (1133,874) -- (1133,305) -- (pc-2);\Ah{har}{0}{1016}{874}\Ah{har}{0}{1237}{305}
\draw[hot] (1223,305) -- (1223,290) -- (pc-1);\Ah{har}{0}{1237}{290}\fill[ink] (1223,305) circle (1.7);
\draw[hot] (1193,613) -- (1193,319) -- (pc-3);\Ah{har}{0}{1237}{319}
\draw[hot] (1193,333) -- (r6);\draw[hot] (r6) -- (pc-4);\Ah{har}{0}{1237}{333}\fill[ink] (1193,333) circle (1.7);
\draw[hot] (1133,587) -- (pe-2);\Ah{har}{0}{1237}{587}
\draw[hot] (1229,587) -- (1229,573) -- (pe-1);\Ah{har}{0}{1237}{573}\fill[ink] (1229,587) circle (1.7);
\draw[hot] (1193,600) -- (pe-3);\Ah{har}{0}{1237}{600}
\draw[hot] (r7) -- (pe-4);\Ah{har}{0}{1237}{613}
\fill[ink] (1133,587) circle (1.7);
\fill[ink] (1193,600) circle (1.7);\fill[ink] (1193,613) circle (1.7);\fill[ink] (1115,613) circle (1.7);
% B hot
\draw[hot] (pc-1) -- (pd-1) -- (1320,290) -- (1320,344) -- (mp5);\Ah{har}{0}{1342}{344}
\draw[hot] (pc-2) -- (pd-2) -- (mp2);\Ah{har}{0}{1342}{305}\fill[ink] (1320,305) circle (1.7);
\draw[hot] (pc-3) -- (pd-3) -- (1297,319);\draw[hot] (1316,319) -- (1326.5,319);
\draw[hot] (1326.5,353) -- (1326.5,313) -- (mp3);\draw[hot] (1326.5,353) -- (mp6);\Ah{har}{0}{1342}{313}\Ah{har}{0}{1342}{353}
\draw[hot] (pc-4) -- (pd-4) -- (1326.5,333);\fill[ink] (1326.5,333) circle (1.7);\fill[ink] (1326.5,319) circle (1.7);
\draw[hot] (pe-1) -- (pf-1) -- (1320,573);
\draw[hot] (1320,543) -- (1320,676) -- (mp13);\draw[hot] (1320,543) -- (mp8);\Ah{har}{0}{1342}{543}\Ah{har}{0}{1336}{676}
\draw[hot] (pe-2) -- (pf-2) -- (1320,587);\draw[hot] (1320,583) -- (mp11);\Ah{har}{0}{1342}{583}
\fill[ink] (1320,573) circle (1.7);\fill[ink] (1320,587) circle (1.7);
\draw[hot] (pe-3) -- (pf-3) -- (1295,600);\draw[hot] (1313,600) -- (1327,600);
\draw[hot] (1327,613) -- (1327,552) -- (mp9);\draw[hot] (1327,592) -- (mp12);\Ah{har}{0}{1342}{552}\Ah{har}{0}{1342}{592}
\draw[hot] (pe-4) -- (pf-4) -- (1327,613);\fill[ink] (1327,600) circle (1.7);
\draw[wire] (1297,319) -- (1316,319);\draw[wire] (1295,600) -- (1313,600);
% ---- hot: board C ----
\draw[hot] (pm-1) -- (1857,320) -- (ta1a);\Ah{har}{0}{1523}{320}\fill[ink] (1857,320) circle (1.7);
\draw[hot] (1636,320) -- (1636,769) -- (c6ka);\Ah{har}{0}{1703}{769}\fill[ink] (1636,320) circle (1.7);
\draw[hot] (pn-1) -- (1618,777) -- (1618,371) -- (c1ka);\Ah{har}{0}{1525}{777}\Ah{har}{0}{1703}{371}
\draw[hot] (pn-2) -- (1539,791) -- (1539,777);\Ah{har}{0}{1525}{791}\fill[ink] (1539,777) circle (1.7);
\foreach \nm/\yy in {c2ka/429,c3ka/570,c4ka/624,c5ka/687} {\draw[hot] (1618,\yy) -- (\nm);\Ah{har}{0}{1703}{\yy}\fill[ink] (1618,\yy) circle (1.7);}
\draw[hot] (pn-3) -- (c7a);\Ah{har}{0}{1535}{806}
\end{scope}

% ===== parts sitting on the wires =====
\pic[rotate=270] at (731,321) {dio};
\pic[rotate=180] at (696,408) {dio};
\pic[rotate=90] at (664,608) {dio};
\pic[rotate=270] at (664,630) {led};
\pic at (747,885) {dio};
\pic at (865,833) {dio};
\pic at (1028,325) {dio};
\pic at (1029,368) {dio};
\pic at (994,726) {dio};
\pic at (994,765) {dio};
\pic[rotate=180] at (1306,319) {dio};
\pic[rotate=180] at (1304,600) {dio};
\pic at (713,336) {capa};
\pic at (526,591) {capa};
\coilv{541}{565}{587}
\coilv{1815}{470}{488}
\pic at (1776,505) {dio};
\pic[rotate=180] at (1720,505) {led};
\pic[rotate=90] at (1660,531) {dio};
\pic[rotate=90] at (1815,523) {capa};
\pic at (1977,393) {dio};
\pic at (1973,751) {dio};
\pic at (1973,836) {dio};
\pic at (1973,846) {dio};
\end{tikzpicture}
\end{document}
